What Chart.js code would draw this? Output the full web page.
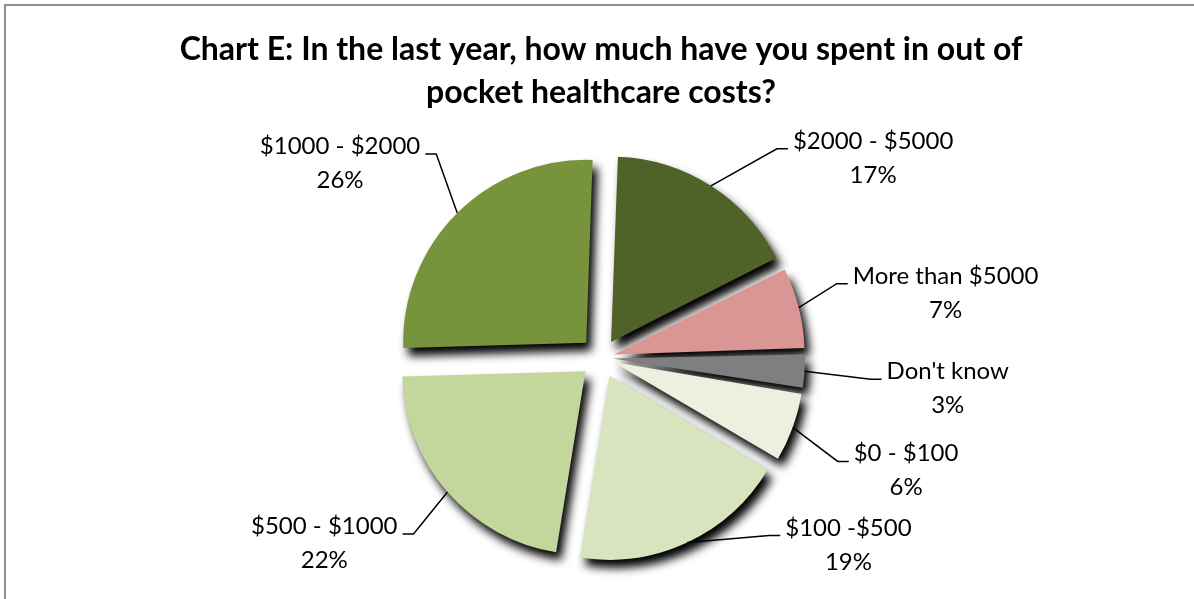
<!DOCTYPE html>
<html><head><meta charset="utf-8">
<script src="https://cdn.jsdelivr.net/npm/chart.js@4.4.0/dist/chart.umd.min.js"></script>
<style>
html,body{margin:0;padding:0;background:#fff;}
#wrap{position:relative;width:1194px;height:599px;overflow:hidden;background:#fff;}
#frame{position:absolute;left:4px;top:4px;width:1300px;height:700px;border-top:2px solid #8e8e8e;border-left:2px solid #8e8e8e;}
canvas{position:absolute;left:0;top:0;}
</style></head><body>
<div id="wrap"><div id="frame"></div><canvas id="c" width="1194" height="599"></canvas></div>
<script>
// ---- data ----
const categories = ['$2000 - $5000', 'More than $5000', "Don't know", '$0 - $100', '$100 -$500', '$500 - $1000', '$1000 - $2000'];
const percentages = [17, 7, 3, 6, 19, 22, 26];
const sliceColors = ['#4F6228', '#D99694', '#7F7F7F', '#EBF1DE', '#D7E4BD', '#C3D69B', '#77933C'];
const chartTitle = ['Chart E: In the last year, how much have you spent in out of', 'pocket healthcare costs?'];

// ---- label layout (relative to each slice's outer mid point) ----
const labelPlacement = [
  {dx: 82, dy: -37, side: 1},
  {dx: 54, dy: -24, side: 1},
  {dx: 82, dy: 8, side: 1},
  {dx: 61, dy: 34, side: 1},
  {dx: 98, dy: -7, side: 1},
  {dx: -50, dy: 42, side: -1},
  {dx: -37, dy: -59, side: -1}
];
const EXPLODE = 21; // px translation of each slice

const total = percentages.reduce((a, b) => a + b, 0);
function explodeOffset(c) {
  const circ = c.parsed / total * Math.PI * 2;
  const factor = 2 - Math.sin(Math.min(Math.PI, circ));
  return 4 * EXPLODE / factor;
}

const shadowPlugin = {
  id: 'sliceShadow',
  beforeDatasetsDraw(chart) {
    const c = chart.ctx;
    c.save();
    c.shadowColor = 'rgba(0,0,0,1)';
    c.shadowBlur = 10;
    c.shadowOffsetX = 5;
    c.shadowOffsetY = 8;
  },
  afterDatasetsDraw(chart) { chart.ctx.restore(); }
};

const labelPlugin = {
  id: 'calloutLabels',
  afterDatasetsDraw(chart) {
    const c = chart.ctx;
    const meta = chart.getDatasetMeta(0);
    c.save();
    c.font = '24px Lato';
    c.fillStyle = '#000';
    c.strokeStyle = '#000';
    c.lineWidth = 1.5;
    meta.data.forEach((arc, i) => {
      const p = arc.getProps(['x', 'y', 'startAngle', 'endAngle', 'outerRadius', 'circumference'], true);
      const off = (arc.options.offset || 0) / 4;
      const fix = 1 - Math.sin(Math.min(Math.PI, p.circumference));
      const t = off * (1 + fix);
      const mid = (p.startAngle + p.endAngle) / 2;
      const ax = p.x + Math.cos(mid) * (t + p.outerRadius);
      const ay = p.y + Math.sin(mid) * (t + p.outerRadius);
      const L = labelPlacement[i];
      const ex = ax + L.dx, ey = ay + L.dy;
      c.beginPath();
      c.moveTo(ax, ay);
      c.lineTo(ex - L.side * 16, ey);
      c.lineTo(ex - L.side * 5, ey);
      c.stroke();
      const line1 = categories[i];
      const line2 = percentages[i] + '%';
      const w1 = c.measureText(line1).width;
      c.textBaseline = 'alphabetic';
      if (L.side > 0) {
        c.textAlign = 'left';
        c.fillText(line1, ex, ey);
        c.textAlign = 'center';
        c.fillText(line2, ex + w1 / 2, ey + 34);
      } else {
        c.textAlign = 'right';
        c.fillText(line1, ex, ey);
        c.textAlign = 'center';
        c.fillText(line2, ex - w1 / 2, ey + 34);
      }
    });
    c.restore();
  }
};

new Chart(document.getElementById('c'), {
  type: 'pie',
  data: {
    labels: categories,
    datasets: [{
      data: percentages,
      backgroundColor: sliceColors,
      borderWidth: 0,
      offset: explodeOffset
    }]
  },
  options: {
    responsive: false,
    animation: false,
    events: [],
    radius: 183,
    rotation: 2,
    layout: {padding: {top: 0, bottom: 0, left: 8, right: 0}},
    plugins: {
      legend: {display: false},
      tooltip: {enabled: false},
      title: {
        display: true,
        text: chartTitle,
        color: '#000',
        font: {family: 'Lato', size: 32, weight: 'bold', lineHeight: 1.35},
        padding: {top: 28, bottom: 2}
      }
    }
  },
  plugins: [shadowPlugin, labelPlugin]
});
</script>
</body></html>
